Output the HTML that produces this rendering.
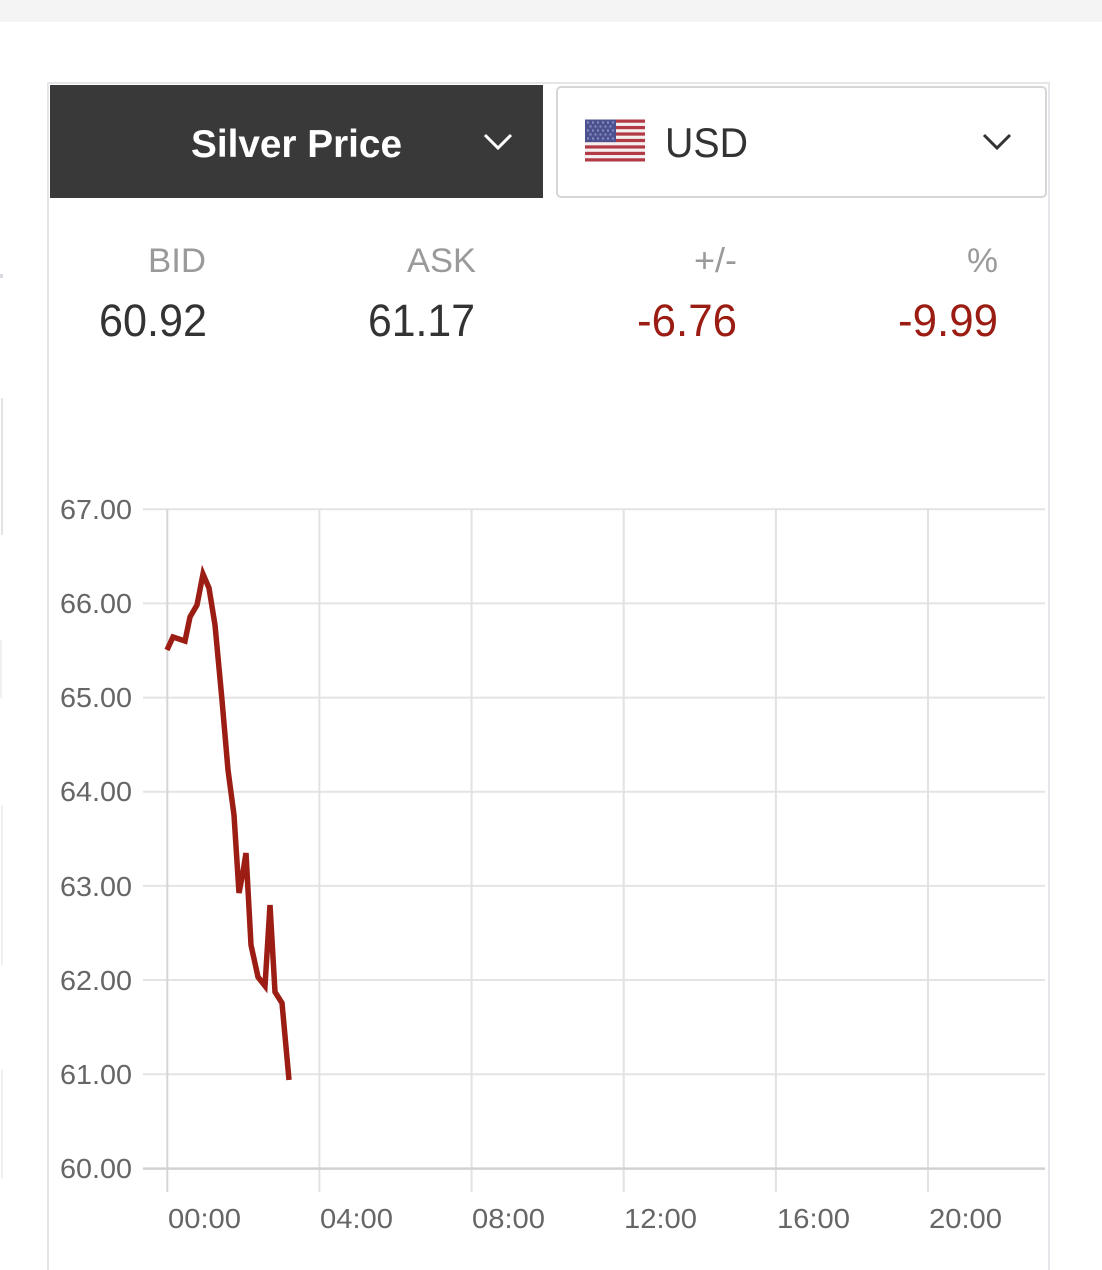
<!DOCTYPE html>
<html>
<head>
<meta charset="utf-8">
<style>
  html,body{margin:0;padding:0;background:#fff;}
  body{width:1102px;height:1270px;overflow:hidden;}
  svg{display:block;}
  text{font-family:"Liberation Sans", Arial, sans-serif;}
</style>
</head>
<body>
<svg width="1102" height="1270" viewBox="0 0 1102 1270" xmlns="http://www.w3.org/2000/svg">
  <!-- top gray bar -->
  <rect x="0" y="0" width="1102" height="22" fill="#f4f4f4"/>

  <!-- faint left-edge artifacts -->
  <rect x="0" y="274" width="3" height="4" fill="#d8dbe0"/>
  <rect x="1" y="398" width="2" height="137" fill="#e4e4e8"/>
  <rect x="0" y="640" width="2" height="58" fill="#f0f0f2"/>
  <rect x="1" y="805" width="2" height="160" fill="#f0f0f2"/>
  <rect x="1" y="1070" width="2" height="108" fill="#f0f0f2"/>

  <!-- card border -->
  <rect x="48" y="83" width="1001" height="1200" fill="#fff" stroke="#e6e6ea" stroke-width="2"/>

  <!-- dark header -->
  <rect x="50" y="85" width="493" height="113" fill="#393939"/>
  <text x="296.5" y="157" font-size="39" font-weight="bold" fill="#ffffff" text-anchor="middle" textLength="211" lengthAdjust="spacingAndGlyphs">Silver Price</text>
  <polyline points="485,135 498,148 511,135" fill="none" stroke="#ffffff" stroke-width="3"/>

  <!-- USD box -->
  <rect x="557" y="87" width="489" height="110" rx="4" ry="4" fill="#fff" stroke="#d6d6d6" stroke-width="2"/>
  <!-- flag -->
  <g>
    <rect x="585" y="119.5" width="60" height="42" fill="#f4f0f0"/>
    <rect x="585" y="119.5" width="60" height="3.23" fill="#b23a44"/>
    <rect x="585" y="125.96" width="60" height="3.23" fill="#b23a44"/>
    <rect x="585" y="132.42" width="60" height="3.23" fill="#b23a44"/>
    <rect x="585" y="138.88" width="60" height="3.23" fill="#b23a44"/>
    <rect x="585" y="145.34" width="60" height="3.23" fill="#b23a44"/>
    <rect x="585" y="151.8" width="60" height="3.23" fill="#b23a44"/>
    <rect x="585" y="158.26" width="60" height="3.24" fill="#b23a44"/>
    <rect x="585" y="119.5" width="31" height="22.6" fill="#4c5290"/>
    <g fill="#8a90c0">
      <rect x="587" y="121.5" width="2" height="2"/><rect x="592" y="121.5" width="2" height="2"/><rect x="597" y="121.5" width="2" height="2"/><rect x="602" y="121.5" width="2" height="2"/><rect x="607" y="121.5" width="2" height="2"/><rect x="612" y="121.5" width="2" height="2"/>
      <rect x="589.5" y="125.5" width="2" height="2"/><rect x="594.5" y="125.5" width="2" height="2"/><rect x="599.5" y="125.5" width="2" height="2"/><rect x="604.5" y="125.5" width="2" height="2"/><rect x="609.5" y="125.5" width="2" height="2"/>
      <rect x="587" y="129.5" width="2" height="2"/><rect x="592" y="129.5" width="2" height="2"/><rect x="597" y="129.5" width="2" height="2"/><rect x="602" y="129.5" width="2" height="2"/><rect x="607" y="129.5" width="2" height="2"/><rect x="612" y="129.5" width="2" height="2"/>
      <rect x="589.5" y="133.5" width="2" height="2"/><rect x="594.5" y="133.5" width="2" height="2"/><rect x="599.5" y="133.5" width="2" height="2"/><rect x="604.5" y="133.5" width="2" height="2"/><rect x="609.5" y="133.5" width="2" height="2"/>
      <rect x="587" y="137.5" width="2" height="2"/><rect x="592" y="137.5" width="2" height="2"/><rect x="597" y="137.5" width="2" height="2"/><rect x="602" y="137.5" width="2" height="2"/><rect x="607" y="137.5" width="2" height="2"/><rect x="612" y="137.5" width="2" height="2"/>
    </g>
  </g>
  <text x="665" y="157" font-size="42" fill="#333333" textLength="83" lengthAdjust="spacingAndGlyphs">USD</text>
  <polyline points="984,135 997,148 1010,135" fill="none" stroke="#333333" stroke-width="3"/>

  <!-- stats labels -->
  <g font-size="34" fill="#9a9a9a" text-anchor="end">
    <text x="206" y="272" textLength="58" lengthAdjust="spacingAndGlyphs">BID</text>
    <text x="476" y="272" textLength="69" lengthAdjust="spacingAndGlyphs">ASK</text>
    <text x="737" y="272" textLength="43" lengthAdjust="spacingAndGlyphs">+/-</text>
    <text x="998" y="272" textLength="31" lengthAdjust="spacingAndGlyphs">%</text>
  </g>
  <!-- stats values -->
  <g font-size="45" text-anchor="end">
    <text x="207" y="336" fill="#333333" textLength="108" lengthAdjust="spacingAndGlyphs">60.92</text>
    <text x="475" y="336" fill="#333333" textLength="107" lengthAdjust="spacingAndGlyphs">61.17</text>
    <text x="737" y="336" fill="#9b1c12" textLength="100" lengthAdjust="spacingAndGlyphs">-6.76</text>
    <text x="998" y="336" fill="#9b1c12" textLength="100" lengthAdjust="spacingAndGlyphs">-9.99</text>
  </g>

  <!-- chart grid -->
  <g stroke="#e4e4e4" stroke-width="2">
    <line x1="143" y1="509.3" x2="1045" y2="509.3"/>
    <line x1="143" y1="603.4" x2="1045" y2="603.4"/>
    <line x1="143" y1="697.6" x2="1045" y2="697.6"/>
    <line x1="143" y1="791.7" x2="1045" y2="791.7"/>
    <line x1="143" y1="885.9" x2="1045" y2="885.9"/>
    <line x1="143" y1="980.0" x2="1045" y2="980.0"/>
    <line x1="143" y1="1074.2" x2="1045" y2="1074.2"/>
  </g>
  <g stroke="#e2e2e2" stroke-width="2">
    <line x1="319.4" y1="509" x2="319.4" y2="1192"/>
    <line x1="471.6" y1="509" x2="471.6" y2="1192"/>
    <line x1="623.7" y1="509" x2="623.7" y2="1192"/>
    <line x1="775.9" y1="509" x2="775.9" y2="1192"/>
    <line x1="928.0" y1="509" x2="928.0" y2="1192"/>
  </g>
  <line x1="167.3" y1="509" x2="167.3" y2="1192" stroke="#d6d6d6" stroke-width="2"/>
  <line x1="143" y1="1168.6" x2="1045" y2="1168.6" stroke="#d2d2d2" stroke-width="2.5"/>

  <!-- y labels -->
  <g font-size="28" fill="#666666" text-anchor="end">
    <text x="132" y="519" textLength="72" lengthAdjust="spacingAndGlyphs">67.00</text>
    <text x="132" y="613" textLength="72" lengthAdjust="spacingAndGlyphs">66.00</text>
    <text x="132" y="707" textLength="72" lengthAdjust="spacingAndGlyphs">65.00</text>
    <text x="132" y="801" textLength="72" lengthAdjust="spacingAndGlyphs">64.00</text>
    <text x="132" y="896" textLength="72" lengthAdjust="spacingAndGlyphs">63.00</text>
    <text x="132" y="990" textLength="72" lengthAdjust="spacingAndGlyphs">62.00</text>
    <text x="132" y="1084" textLength="72" lengthAdjust="spacingAndGlyphs">61.00</text>
    <text x="132" y="1178" textLength="72" lengthAdjust="spacingAndGlyphs">60.00</text>
  </g>
  <!-- x labels -->
  <g font-size="28" fill="#666666">
    <text x="168" y="1228" textLength="73" lengthAdjust="spacingAndGlyphs">00:00</text>
    <text x="320" y="1228" textLength="73" lengthAdjust="spacingAndGlyphs">04:00</text>
    <text x="472" y="1228" textLength="73" lengthAdjust="spacingAndGlyphs">08:00</text>
    <text x="624" y="1228" textLength="73" lengthAdjust="spacingAndGlyphs">12:00</text>
    <text x="777" y="1228" textLength="73" lengthAdjust="spacingAndGlyphs">16:00</text>
    <text x="929" y="1228" textLength="73" lengthAdjust="spacingAndGlyphs">20:00</text>
  </g>

  <!-- price line -->
  <polyline fill="none" stroke="#9b1d14" stroke-width="5.5" stroke-linejoin="miter" stroke-miterlimit="6"
    points="167,650 173,637 185,641 190,617 197,605 203,574 209,588 215,625 222,700 228,770 234,815 239,893 243,872 246,853 251,945 258,977 265,986 270,905 275,992 282,1003 289,1080"/>
</svg>
</body>
</html>
